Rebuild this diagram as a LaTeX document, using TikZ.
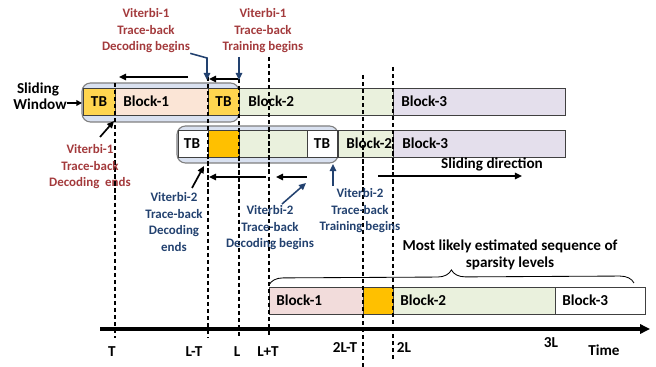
\documentclass[tikz,border=0pt]{standalone}
\usepackage{fontspec}
\setmainfont{Carlito}
\usetikzlibrary{arrows.meta,decorations.pathreplacing}

\definecolor{tbgold}{HTML}{FFD54F}
\definecolor{tborange}{HTML}{FFC000}
\definecolor{peach}{HTML}{FBE5D6}
\definecolor{lgreen}{HTML}{EAF1DD}
\definecolor{lavender}{HTML}{E4DFEC}
\definecolor{pinkish}{HTML}{F2DCDB}
\definecolor{winblue}{HTML}{D9E1F0}
\definecolor{vitred}{HTML}{A33A3C}
\definecolor{vitblue}{HTML}{22416F}

\tikzset{
  lbl/.style={font=\fontsize{10.8}{12}\selectfont\bfseries, inner sep=0pt},
  blklbl/.style={lbl, anchor=west},
  note/.style={font=\fontsize{9.2}{11.7}\selectfont\bfseries, align=center, inner sep=0pt},
  v1note/.style={note, text=vitred},
  v2note/.style={note, text=vitblue},
  blkarrow/.style={-{Triangle[length=5pt,width=4.5pt]}, line width=1.4pt},
  navyarrow/.style={-{Triangle[length=5pt,width=4.5pt]}, line width=1.1pt, draw=vitblue},
  cell/.style={draw=black!75, line width=0.6pt},
  window/.style={draw=gray, fill=winblue, rounded corners=6pt, line width=0.8pt},
  marker/.style={densely dashed, line width=0.8pt},
}

\begin{document}
\begin{tikzpicture}[x=0.025cm,y=-0.025cm]
  \useasboundingbox (0,0) rectangle (656,367);

  % sliding window of Viterbi-1
  \draw[window] (82,83) rectangle (239,122);
  \draw[cell, fill=tbgold] (83,88) rectangle (115,115);
  \draw[cell, fill=peach] (115,88) rectangle (208,115);
  \draw[cell, fill=tbgold] (208,88) rectangle (239,115);
  \draw[cell, fill=lgreen] (239,88) rectangle (393,115);
  \draw[cell, fill=lavender] (393,88) rectangle (565,115);
  \node[lbl] (r1tbA) at (99,101.5) {TB};
  \node[blklbl] (r1b1) at (123,101.5) {Block-1};
  \node[lbl] (r1tbB) at (223.5,101.5) {TB};
  \node[blklbl] (r1b2) at (248,101.5) {Block-2};
  \node[blklbl] (r1b3) at (401,101.5) {Block-3};

  % sliding window of Viterbi-2
  \draw[window] (177,126) rectangle (338,163);
  \draw[cell, fill=white] (178,130) rectangle (208,157);
  \draw[cell, fill=tborange] (208,130) rectangle (239,157);
  \draw[cell, fill=lgreen] (239,130) rectangle (307,157);
  \draw[cell, fill=white] (307,130) rectangle (337,157);
  \draw[cell, fill=lgreen] (338,130) rectangle (393,157);
  \draw[cell, fill=lavender] (393,130) rectangle (565,157);
  \node[lbl] (r2tbA) at (192,143.5) {TB};
  \node[lbl] (r2tbB) at (322,143.5) {TB};
  \node[blklbl] (r2b2) at (346,143.5) {Block-2};
  \node[blklbl] (r2b3) at (402,143.5) {Block-3};

  % estimated sequence
  \draw[cell, fill=pinkish] (269,287) rectangle (363,314);
  \draw[cell, fill=tborange] (363,287) rectangle (393,314);
  \draw[cell, fill=lgreen] (393,287) rectangle (555,314);
  \draw[cell, fill=white] (555,287) rectangle (645,314);
  \node[blklbl] (r3b1) at (276,300.5) {Block-1};
  \node[blklbl] (r3b2) at (400,300.5) {Block-2};
  \node[blklbl] (r3b3) at (562,300.5) {Block-3};

  \draw[decorate, decoration={brace, amplitude=10pt, aspect=0.5}, line width=0.6pt]
    (269,285) -- (634,283);
  \node[lbl, align=center] (mlseq) at (510,255) {Most likely estimated sequence of\\sparsity levels};

  % time instants
  \foreach \x/\ya/\yb in {115/83/338, 208/77/338, 239/79/338, 269/57/338, 363/75/367, 393/67/362}
    \draw[marker] (\x,\ya) -- (\x,\yb);

  % time axis
  \coordinate (axS) at (100,329);
  \coordinate (axE) at (650,329);
  \draw[line width=2.2pt, -{Triangle[length=7pt,width=6.5pt]}] (axS) -- (axE);
  \node[lbl] (lT) at (112,352) {T};
  \node[lbl] (lLT) at (194,352) {L-T};
  \node[lbl] (lL) at (237,352) {L};
  \node[lbl] (lLpT) at (268,352) {L+T};
  \node[lbl] (l2LT) at (345,348) {2L-T};
  \node[lbl] (l2L) at (404,348) {2L};
  \node[lbl] (l3L) at (551,343) {3L};
  \node[lbl] (lTime) at (604,350) {Time};

  % sliding window label
  \node[lbl] (swA) at (38,89) {Sliding};
  \node[lbl] (swB) at (40,104) {Window};
  \coordinate (winL) at (82,103);
  \draw[-{Triangle[length=4pt,width=4pt]}, line width=1pt] (swB.east |- winL) -- (winL);

  % trace-back arrows
  \coordinate (a1s) at (188,77);  \coordinate (a1e) at (119,77);
  \coordinate (a2s) at (238,79);  \coordinate (a2e) at (209,79);
  \coordinate (a3s) at (266,177); \coordinate (a3e) at (209,177);
  \coordinate (a4s) at (307,177); \coordinate (a4e) at (276,177);
  \draw[blkarrow] (a1s) -- (a1e);
  \draw[blkarrow] (a2s) -- (a2e);
  \draw[blkarrow] (a3s) -- (a3e);
  \draw[blkarrow] (a4s) -- (a4e);

  \coordinate (sds) at (378,176); \coordinate (sde) at (522,176);
  \draw[blkarrow, line width=1.6pt] (sds) -- (sde);
  \node[lbl] (sdir) at (492,164) {Sliding direction};

  % Viterbi-1 notes
  \node[v1note] (v1db) at (146,31) {Viterbi-1\\Trace-back\\Decoding begins};
  \node[v1note] (v1tb) at (263,31) {Viterbi-1\\Trace-back\\Training begins};
  \node[v1note] (v1de) at (90,167) {Viterbi-1\\Trace-back\\Decoding\ \ ends};
  \coordinate (k1) at (207,58);  \coordinate (t1) at (207,80);
  \coordinate (s2) at (239,57);  \coordinate (t2) at (239,80);
  \coordinate (s3) at (100,137); \coordinate (t3) at (114,121);
  \draw[navyarrow] (v1db.south east) -- (k1) -- (t1);
  \draw[navyarrow] (s2) -- (t2);
  \draw[blkarrow, line width=1.2pt] (s3) -- (t3);

  % Viterbi-2 notes
  \node[v2note] (v2de) at (174,222) {Viterbi-2\\Trace-back\\Decoding\\ends};
  \node[v2note] (v2db) at (270,228) {Viterbi-2\\Trace-back\\Decoding begins};
  \node[v2note] (v2tb) at (360,211) {Viterbi-2\\Trace-back\\Training begins};
  \coordinate (s4) at (192,188); \coordinate (t4) at (204,166);
  \coordinate (s5) at (282,204); \coordinate (t5) at (306,183);
  \coordinate (s6) at (333,186); \coordinate (t6) at (333,164);
  \draw[blkarrow, line width=1.2pt] (s4) -- (t4);
  \draw[navyarrow] (s5) -- (t5);
  \draw[navyarrow] (s6) -- (t6);
\end{tikzpicture}
\end{document}
